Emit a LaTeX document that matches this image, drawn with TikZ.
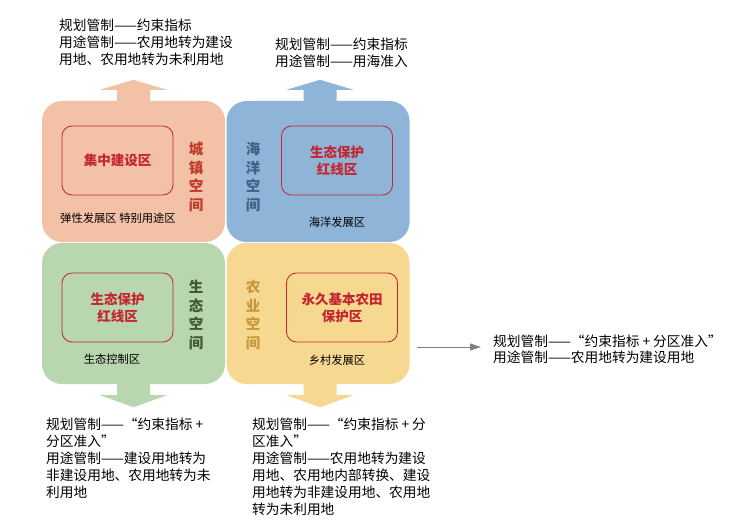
\documentclass[tikz,border=0pt]{standalone}
\usepackage{fontspec}
\setmainfont{Noto Sans CJK SC}
\usetikzlibrary{calc,arrows.meta}
\definecolor{cOrange}{HTML}{F3C1A6}
\definecolor{cBlue}{HTML}{8EB4D8}
\definecolor{cGreen}{HTML}{B8D6AF}
\definecolor{cYellow}{HTML}{F6D891}
\definecolor{cRed}{HTML}{C3262E}
\definecolor{tOrange}{HTML}{C0392B}
\definecolor{tBlue}{HTML}{3E5F8A}
\definecolor{tGreen}{HTML}{3F5A2C}
\definecolor{tGold}{HTML}{C8973C}
\definecolor{cGray}{HTML}{808080}
\tikzset{
  bigbox/.style={rounded corners=20pt, minimum width=183pt, minimum height=141pt, inner sep=0pt, draw=none},
  innerbox/.style={rounded corners=10pt, draw=cRed, line width=0.8pt, minimum width=111pt, minimum height=69pt, inner sep=0pt, align=center, text=cRed, font=\fontsize{13.5}{17}\selectfont\bfseries},
  vlabel/.style={align=center, inner sep=0pt, font=\fontsize{14.5}{18.5}\selectfont\bfseries},
  small/.style={inner sep=0pt, font=\fontsize{11.3}{13}\selectfont},
  note/.style={inner sep=0pt, align=left, anchor=west, font=\fontsize{13.7}{17}\selectfont},
}
\begin{document}
\begin{tikzpicture}[x=1pt,y=-1pt]
\useasboundingbox (0,0) rectangle (745,527);
% big boxes
\node[bigbox, fill=cOrange] (orange) at (133.5,171.5) {};
\node[bigbox, fill=cBlue] (blue) at (318,171.5) {};
\node[bigbox, fill=cGreen] (green) at (133.5,313.5) {};
\node[bigbox, fill=cYellow] (yellow) at (318,313.5) {};
% block arrows
\fill[cOrange] ($(orange.north)+(-16.5,0)$) -- ++(0,-11) -- ++(-17,0) -- ($(orange.north)+(0,-21)$) -- ($(orange.north)+(33.5,-11)$) -- ++(-17,0) -- ($(orange.north)+(16.5,0)$) -- cycle;
\fill[cBlue] ($(blue.north)+(-14.5,0)$) -- ++(0,-11) -- ++(-17,0) -- ($(blue.north)+(2,-21)$) -- ($(blue.north)+(35.5,-11)$) -- ++(-17,0) -- ($(blue.north)+(18.5,0)$) -- cycle;
\fill[cGreen] ($(green.south)+(-16.5,0)$) -- ++(0,11) -- ++(-17,0) -- ($(green.south)+(0,23)$) -- ($(green.south)+(33.5,11)$) -- ++(-17,0) -- ($(green.south)+(16.5,0)$) -- cycle;
\fill[cYellow] ($(yellow.south)+(-14.5,0)$) -- ++(0,11) -- ++(-17,0) -- ($(yellow.south)+(2,23)$) -- ($(yellow.south)+(35.5,11)$) -- ++(-17,0) -- ($(yellow.south)+(18.5,0)$) -- cycle;
% inner boxes
\node[innerbox] (i1) at (117.5,160.5) {集中建设区};
\node[innerbox] (i2) at (337,160.5) {生态保护\\红线区};
\node[innerbox] (i3) at (117.5,307.5) {生态保护\\红线区};
\node[innerbox] (i4) at (342,307.5) {永久基本农田\\保护区};
% vertical labels
\node[vlabel, text=tOrange] (v1) at (196,177) {城\\镇\\空\\间};
\node[vlabel, text=tBlue] (v2) at (253,177) {海\\洋\\空\\间};
\node[vlabel, text=tGreen] (v3) at (196,315) {生\\态\\空\\间};
\node[vlabel, text=tGold] (v4) at (253,315) {农\\业\\空\\间};
% small labels
\node[small] (s1) at (118,218) {弹性发展区\ 特别用途区};
\node[small] (s2) at (337,222) {海洋发展区};
\node[small] (s3) at (112,359) {生态控制区};
\node[small] (s4) at (337,360) {乡村发展区};
% notes
\node[note] (n1) at (59,42) {规划管制——约束指标\\用途管制——农用地转为建设\\用地、农用地转为未利用地};
\node[note] (n2) at (275,52.5) {规划管制——约束指标\\用途管制——用海准入};
\node[note] (n3) at (46,458) {规划管制——“约束指标 +\\分区准入”\\用途管制——建设用地转为\\非建设用地、农用地转为未\\利用地};
\node[note] (n4) at (252,466.5) {规划管制——“约束指标 + 分\\区准入”\\用途管制——农用地转为建设\\用地、农用地内部转换、建设\\用地转为非建设用地、农用地\\转为未利用地};
\node[note, font=\fontsize{13.7}{15.5}\selectfont] (n5) at (493,349.5) {规划管制——“约束指标 + 分区准入”\\用途管制——农用地转为建设用地};
% gray arrow
\coordinate (g1) at (417,347);
\draw[cGray, line width=0.8pt, -{Triangle[length=11pt,width=7pt]}, shorten >=12pt] (g1) -- (g1 -| n5.west);
\end{tikzpicture}
\end{document}
